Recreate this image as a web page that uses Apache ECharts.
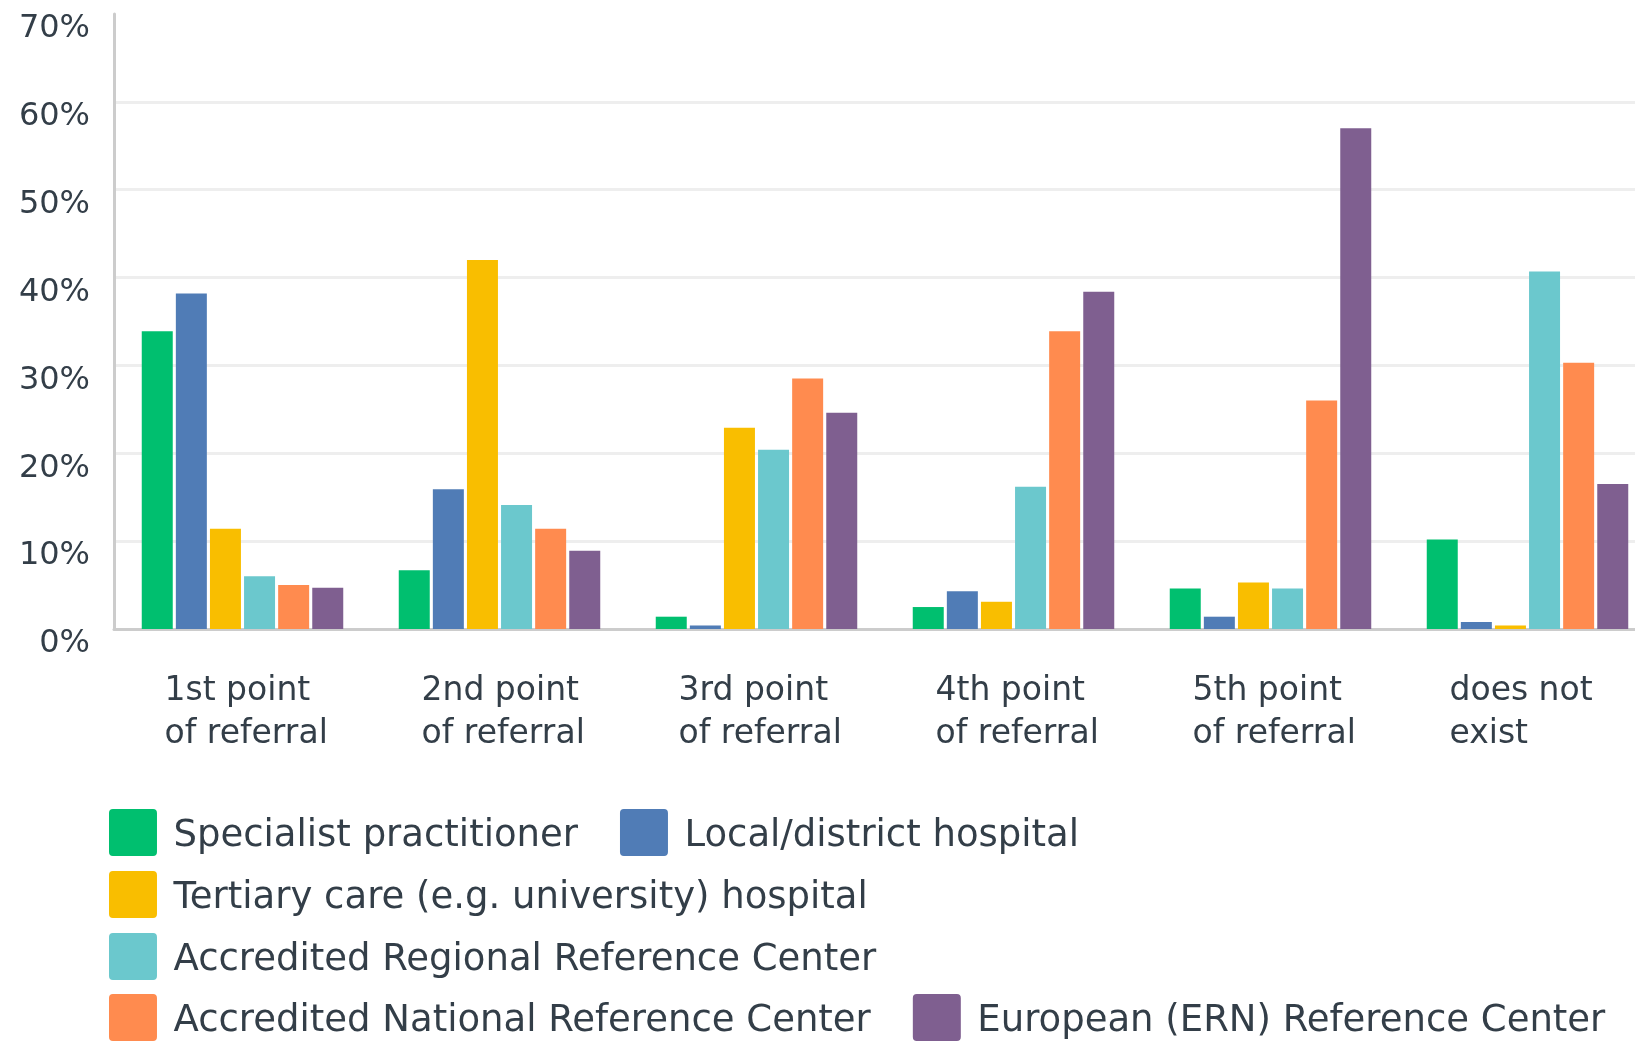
<!DOCTYPE html>
<html>
<head>
<meta charset="utf-8">
<script src="https://cdn.jsdelivr.net/npm/echarts@6/dist/echarts.min.js"></script>
<style>
  html, body { margin: 0; padding: 0; background: #fff; }
  #main { width: 1635px; height: 1041px; }
</style>
</head>
<body>
<div id="main"></div>
<script>
// categories along the x axis
const categories = [
  "1st point\nof referral",
  "2nd point\nof referral",
  "3rd point\nof referral",
  "4th point\nof referral",
  "5th point\nof referral",
  "does not\nexist"
];

// values in percent
const specialist = [33.9, 6.7, 1.4, 2.5, 4.6, 10.2];
const localHospital = [38.2, 15.9, 0.4, 4.3, 1.4, 0.8];
const tertiary = [11.4, 42.0, 22.9, 3.1, 5.3, 0.4];
const regional = [6.0, 14.1, 20.4, 16.2, 4.6, 40.7];
const national = [5.0, 11.4, 28.5, 33.9, 26.0, 30.3];
const european = [4.7, 8.9, 24.6, 38.4, 57.0, 16.5];

const seriesNames = [
  "Specialist practitioner",
  "Local/district hospital",
  "Tertiary care (e.g. university) hospital",
  "Accredited Regional Reference Center",
  "Accredited National Reference Center",
  "European (ERN) Reference Center"
];
const seriesData = [specialist, localHospital, tertiary, regional, national, european];
const colors = ["#00bf6f", "#507cb6", "#f9be00", "#6bc8cd", "#ff8b4f", "#7f5f90"];

const textColor = "#333e48";
const font = "DejaVu Sans";
const swatch = "path://M4,0 H45 A4,4 0 0 1 49,4 V44 A4,4 0 0 1 45,48 H4 A4,4 0 0 1 0,44 V4 A4,4 0 0 1 4,0 Z";

const chart = echarts.init(document.getElementById("main"));

// one legend per row so the row spacing can differ from the item spacing
function legendRow(names, top) {
  return {
    data: names,
    left: 109,
    top: top,
    padding: 0,
    itemGap: 42,
    itemWidth: 49,
    itemHeight: 47,
    icon: swatch,
    selectedMode: false,
    formatter: "{t|{name}}",
    textStyle: {
      fontFamily: font,
      fontSize: 37,
      color: textColor,
      rich: {
        t: {
          fontFamily: font,
          fontSize: 37,
          color: textColor,
          padding: [8, 0, 0, 11]
        }
      }
    }
  };
}

const option = {
  animation: false,
  color: colors,
  grid: {
    left: 114,
    top: 14,
    width: 1542,
    bottom: 412,
    outerBoundsMode: "none"
  },
  legend: [
    legendRow([seriesNames[0], seriesNames[1]], 809),
    legendRow([seriesNames[2]], 871),
    legendRow([seriesNames[3]], 933),
    legendRow([seriesNames[4], seriesNames[5]], 994)
  ],
  xAxis: {
    type: "category",
    data: categories,
    axisTick: { show: false },
    axisLine: { lineStyle: { color: "#cccccc", width: 3 } },
    axisLabel: {
      margin: 41,
      interval: 0,
      formatter: function (v) {
        return v.split("\n").map(function (s) { return "{a|" + s + "}"; }).join("\n");
      },
      rich: {
        a: {
          width: 156,
          align: "left",
          fontFamily: font,
          fontSize: 33,
          lineHeight: 43,
          color: textColor
        }
      }
    }
  },
  yAxis: {
    type: "value",
    min: 0,
    max: 70,
    interval: 10,
    axisLine: { show: true, lineStyle: { color: "#cccccc", width: 3 } },
    axisTick: { show: false },
    splitLine: {
      showMaxLine: false,
      lineStyle: { color: "#eeeeee", width: 3 }
    },
    axisLabel: {
      formatter: "{value}%",
      margin: 24,
      fontFamily: font,
      fontSize: 32,
      color: textColor,
      verticalAlign: "top",
      lineHeight: 30
    }
  },
  series: seriesNames.map(function (name, i) {
    return {
      name: name,
      type: "bar",
      data: seriesData[i],
      barWidth: 31,
      barGap: "10%",
      itemStyle: { color: colors[i] }
    };
  })
};

chart.setOption(option);
</script>
</body>
</html>
